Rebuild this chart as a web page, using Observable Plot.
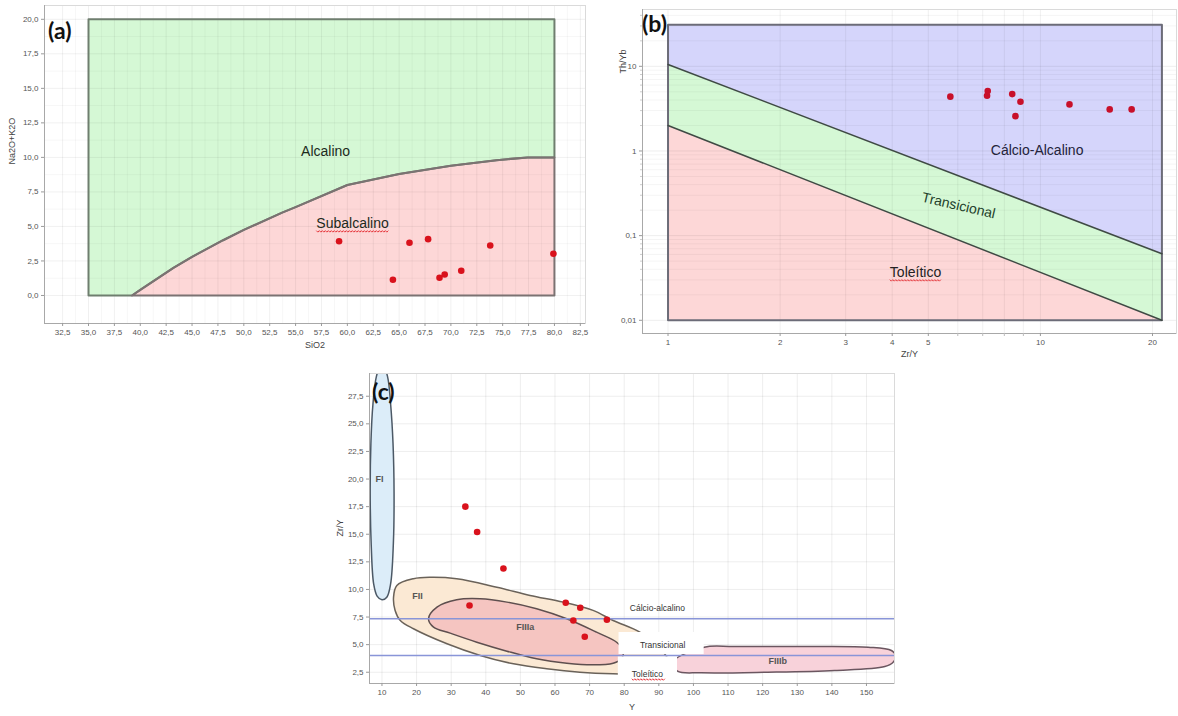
<!DOCTYPE html>
<html>
<head>
<meta charset="utf-8">
<script src="https://cdn.jsdelivr.net/npm/d3@7"></script>
<script src="https://cdn.jsdelivr.net/npm/@observablehq/plot@0.6"></script>
<style>
  html, body { margin: 0; padding: 0; background: #fff; }
  body { position: relative; width: 1178px; height: 716px; overflow: hidden; font-family: "Liberation Sans", Arial, sans-serif; }
  .panel { position: absolute; }
  .tag { position: absolute; font-family: Lato, "Open Sans", sans-serif; font-weight: 700; font-size: 23px; line-height: 1; color: #111; }
</style>
</head>
<body>
<div id="pa" class="panel" style="left:0px;top:0px"></div>
<div id="pb" class="panel" style="left:600px;top:0px"></div>
<div id="pc" class="panel" style="left:330px;top:362px"></div>
<div class="tag" style="left:48px;top:19px">(a)</div>
<div class="tag" style="left:642px;top:12px">(b)</div>
<div class="tag" style="left:372px;top:380px">(c)</div>
<script>
// ---------- (a) SiO2 x Na2O+K2O ----------
const tasSiO2 = [59.2, 64.4, 66.0, 67.8, 68.9, 69.4, 71.0, 73.8, 79.9];
const tasAlkalis = [3.93, 1.14, 3.82, 4.08, 1.28, 1.52, 1.79, 3.62, 3.02];
// alkaline / subalkaline divide
const alkBoundary = [[39.2, 0], [40, 0.4], [43.2, 2], [45, 2.8], [48, 4], [50, 4.75], [53.7, 6], [55, 6.4],
                     [60, 8], [65, 8.8], [70, 9.4], [74.4, 9.8], [77.4, 10], [80, 10]];
const tasSiO2Range = [35, 80];
const tasAlkTop = 20;
const tasTicksX = [32.5, 35, 37.5, 40, 42.5, 45, 47.5, 50, 52.5, 55, 57.5, 60, 62.5, 65, 67.5, 70, 72.5, 75, 77.5, 80, 82.5];
const tasTicksY = [0, 2.5, 5, 7.5, 10, 12.5, 15, 17.5, 20];
const tasLabels = [{text: "Alcalino", x: 57.9, y: 10.45}, {text: "Subalcalino", x: 60.5, y: 5.2}];

// ---------- (b) Zr/Y x Th/Yb ----------
const rbZrY = [5.73, 7.22, 7.19, 8.40, 8.84, 8.57, 11.97, 15.35, 17.58];
const rbThYb = [4.38, 5.10, 4.50, 4.70, 3.82, 2.58, 3.55, 3.10, 3.10];
const rbRangeX = [1, 21.2];
const rbRangeY = [0.01, 31];
const rbCalcAlkLine = [[1, 10.5], [21.2, 0.061]];
const rbTholLine = [[1, 2.0], [21.2, 0.01]];
const rbTicksX = [1, 2, 3, 4, 5, 10, 20];
const rbMinorX = [6, 7, 8, 9];
const rbTicksY = [0.01, 0.1, 1, 10];
const rbMinorY = [0.02, 0.03, 0.04, 0.05, 0.06, 0.07, 0.08, 0.09, 0.2, 0.3, 0.4, 0.5, 0.6, 0.7, 0.8, 0.9,
                  2, 3, 4, 5, 6, 7, 8, 9, 20, 30, 40];
const rbLabels = [
  {text: "Cálcio-Alcalino", x: 9.8, y: 1.0, style: "normal", rot: 0, color: "#23233a"},
  {text: "Transicional", x: 6.03, y: 0.226, style: "italic", rot: 13, color: "#22402a"},
  {text: "Toleítico", x: 4.62, y: 0.0365, style: "normal", rot: 0, color: "#222"}
];

// ---------- (c) Y x Zr/Y ----------
const ffY = [34.1, 37.5, 45.1, 35.3, 63.1, 67.3, 65.3, 75.0, 68.6];
const ffZrY = [17.5, 15.2, 11.9, 8.55, 8.79, 8.34, 7.19, 7.25, 5.71];
const fieldFI = [[10, 30.6], [11.6, 29.3], [12.5, 26.8], [13.2, 23.2], [13.5, 18.7], [13.3, 14.2], [12.5, 10.5],
                 [11.4, 9.3], [10, 9.06], [8.6, 9.4], [7.6, 10.5], [6.9, 14], [6.6, 18.7], [6.8, 23.2], [7.4, 26.8], [8.4, 29.3]];
const fieldFII = [[14.3, 10.36], [19.1, 10.97], [23.9, 11.1], [31.6, 10.97], [43.2, 10.2], [52.8, 9.46], [62.4, 8.85],
                  [71.0, 8.1], [76.8, 7.19], [84.5, 6.13], [89, 5.0], [91.6, 4.2], [93, 3.4], [92, 2.6], [88, 2.35],
                  [76.8, 2.36], [67.2, 2.5], [57.6, 2.81], [48.0, 3.26], [38.4, 4.02], [28.8, 5.08], [19.1, 6.44],
                  [15.3, 7.19], [13.8, 8.1], [13.35, 9.3]];
const fieldFIIIa = [[23.45, 7.34], [25.9, 8.4], [31.6, 9.07], [38.4, 9.16], [46.1, 8.85], [54.7, 8.25], [63.4, 7.34],
                    [72.0, 6.13], [77.8, 5.22], [79.7, 4.47], [79.2, 3.72], [76.8, 3.32], [71.0, 3.17], [63.4, 3.32],
                    [54.7, 3.72], [46.1, 4.41], [37.4, 5.22], [29.7, 6.04], [24.9, 6.58]];
const fieldFIIIb = [[94, 3.41], [103.1, 4.77], [111.8, 4.83], [131.1, 4.83], [150.5, 4.77], [157.2, 4.47], [158.4, 4.02],
                    [157.7, 3.41], [155.3, 3.02], [140.8, 2.66], [121.5, 2.5], [102.2, 2.45], [95.4, 2.6]];
const ffThresholds = [7.34, 4.02];
const ffTicksX = [10, 20, 30, 40, 50, 60, 70, 80, 90, 100, 110, 120, 130, 140, 150];
const ffTicksY = [2.5, 5, 7.5, 10, 12.5, 15, 17.5, 20, 22.5, 25, 27.5];
const ffFieldLabels = [{text: "FI", x: 9.3, y: 20}, {text: "FII", x: 20.3, y: 9.4},
                       {text: "FIIIa", x: 51.4, y: 6.6}, {text: "FIIIb", x: 124.4, y: 3.5}];
const ffSeriesLabels = [{text: "Cálcio-alcalino", x: 89.6, y: 8.34}, {text: "Transicional", x: 91.1, y: 4.92},
                        {text: "Toleítico", x: 86.7, y: 2.29}];
const ffLabelBoxes = [{x1: 78.5, x2: 103.1, y1: 4.1, y2: 6.1}, {x1: 78.3, x2: 95.4, y1: 1.5, y2: 3.9}];

// ---------- helpers ----------
const comma = digits => v => d3.format(`.${digits}f`)(v).replace(".", ",");
const px = d => d[0], py = d => d[1];
const mids = arr => d3.pairs(arr, (a, b) => (a + b) / 2);
const baseStyle = {fontFamily: "'Liberation Sans', Arial, sans-serif", fontSize: "8px", color: "#555", background: "transparent", overflow: "visible"};
const axisColors = {stroke: "#9a9a9a", fill: "#555"};

// red wavy spell-check underline under the given words (needs the svg in the DOM)
function spellMark(svg, words) {
  d3.select(svg).selectAll("text").filter(function () { return words.includes(this.textContent); })
    .each(function () {
      const b = this.getBBox();
      const y0 = b.y + b.height - 0.5;
      let d = `M${b.x},${y0}`;
      for (let x = b.x; x < b.x + b.width - 1; x += 3) d += " l1.5,1.5 l1.5,-1.5";
      d3.select(this.parentNode).append("path")
        .attr("d", d)
        .attr("transform", this.getAttribute("transform"))
        .attr("fill", "none")
        .attr("stroke", "#e3262b")
        .attr("stroke-width", 0.9);
    });
}

// ---------- (a) ----------
const domA = {x: [30.75, 83.0], y: [-2.03, 21.0]};
const subField = [...alkBoundary, [tasSiO2Range[1], 0]];
const alkField = [[tasSiO2Range[0], 0], [tasSiO2Range[0], tasAlkTop], [tasSiO2Range[1], tasAlkTop], ...alkBoundary.slice().reverse()];
const tasPoints = tasSiO2.map((s, i) => ({x: s, y: tasAlkalis[i]}));

const plotA = Plot.plot({
  width: 600, height: 362,
  marginLeft: 44, marginRight: 15, marginTop: 5, marginBottom: 39,
  style: baseStyle,
  x: {domain: domA.x}, y: {domain: domA.y},
  marks: [
    Plot.line(alkField, {x: px, y: py, curve: "linear-closed", fill: "#d5f8d5", stroke: "none"}),
    Plot.line(subField, {x: px, y: py, curve: "linear-closed", fill: "#fdd7d7", stroke: "none"}),
    Plot.gridX(mids(tasTicksX), {stroke: "#000", strokeOpacity: 0.035}),
    Plot.gridY(mids(tasTicksY), {stroke: "#000", strokeOpacity: 0.035}),
    Plot.gridX(tasTicksX, {stroke: "#000", strokeOpacity: 0.06}),
    Plot.gridY(tasTicksY, {stroke: "#000", strokeOpacity: 0.06}),
    Plot.line(alkField, {x: px, y: py, curve: "linear-closed", stroke: "#6f7e6f", strokeWidth: 2}),
    Plot.line(subField, {x: px, y: py, curve: "linear-closed", stroke: "#7b7272", strokeWidth: 2}),
    Plot.frame({stroke: "#dadada"}),
    Plot.ruleX([domA.x[0]], {stroke: "#a8a8a8"}),
    Plot.ruleY([domA.y[0]], {stroke: "#a8a8a8"}),
    Plot.axisX(tasTicksX, {tickSize: 3, tickPadding: 3, tickFormat: comma(1), label: null, ...axisColors}),
    Plot.axisY(tasTicksY, {tickSize: 3, tickPadding: 3, tickFormat: comma(1), label: null, ...axisColors}),
    Plot.dot(tasPoints, {x: "x", y: "y", r: 3.3, fill: "#d9121c", stroke: "none"}),
    Plot.text(tasLabels, {x: "x", y: "y", text: "text", fontSize: 14, fill: "#1c2a1c"}),
    Plot.text(["SiO2"], {frameAnchor: "bottom", dy: 24, fontSize: 9, fill: "#444"}),
    Plot.text(["Na2O+K2O"], {frameAnchor: "left", dx: -32, rotate: -90, fontSize: 9, fill: "#444"})
  ]
});
document.getElementById("pa").append(plotA);
spellMark(plotA, ["Subalcalino"]);

// ---------- (b) ----------
const domB = {x: [0.854, 23.2], y: [0.00698, 46.9]};
const [bx0, bx1] = rbRangeX, [by0, by1] = rbRangeY;
const calcAlkField = [[bx0, by1], [bx1, by1], rbCalcAlkLine[1], rbCalcAlkLine[0]];
const transField = [rbCalcAlkLine[0], rbCalcAlkLine[1], [bx1, by0], rbTholLine[0]];
const tholField = [rbTholLine[0], rbTholLine[1], [bx0, by0]];
const rbPoints = rbZrY.map((z, i) => ({x: z, y: rbThYb[i]}));

const plotB = Plot.plot({
  width: 578, height: 362,
  marginLeft: 42, marginRight: 2, marginTop: 9, marginBottom: 29,
  style: baseStyle,
  x: {type: "log", domain: domB.x}, y: {type: "log", domain: domB.y},
  marks: [
    Plot.line(calcAlkField, {x: px, y: py, curve: "linear-closed", fill: "#d5d5fb", stroke: "none"}),
    Plot.line(transField, {x: px, y: py, curve: "linear-closed", fill: "#d5f8d5", stroke: "none"}),
    Plot.line(tholField, {x: px, y: py, curve: "linear-closed", fill: "#fdd7d7", stroke: "none"}),
    Plot.gridX([...rbTicksX, ...rbMinorX], {stroke: "#000", strokeOpacity: 0.06}),
    Plot.gridY(rbMinorY, {stroke: "#000", strokeOpacity: 0.045}),
    Plot.gridY(rbTicksY, {stroke: "#000", strokeOpacity: 0.07}),
    Plot.line([[bx0, by0], [bx0, by1], [bx1, by1], [bx1, by0]], {x: px, y: py, curve: "linear-closed", stroke: "#6c6c78", strokeWidth: 2}),
    Plot.line(rbCalcAlkLine, {x: px, y: py, stroke: "#3f4a44", strokeWidth: 1.5}),
    Plot.line(rbTholLine, {x: px, y: py, stroke: "#3f4a44", strokeWidth: 1.5}),
    Plot.frame({stroke: "#dadada"}),
    Plot.ruleX([domB.x[0]], {stroke: "#a8a8a8"}),
    Plot.ruleY([domB.y[0]], {stroke: "#a8a8a8"}),
    Plot.axisX(rbTicksX, {tickSize: 3, tickPadding: 3, tickFormat: d => String(d), label: null, ...axisColors}),
    Plot.axisX(rbMinorX, {tickSize: 3, text: null, label: null, stroke: "#bbb"}),
    Plot.axisY(rbTicksY, {tickSize: 3, tickPadding: 3, tickFormat: d => String(d).replace(".", ","), label: null, ...axisColors}),
    Plot.axisY(rbMinorY, {tickSize: 2, text: null, label: null, stroke: "#ccc"}),
    Plot.dot(rbPoints, {x: "x", y: "y", r: 3.3, fill: "#c8102a", stroke: "none"}),
    Plot.text(rbLabels, {x: "x", y: "y", text: "text", fontSize: 14, fontStyle: d => d.style, rotate: d => d.rot, fill: d => d.color}),
    Plot.text(["Zr/Y"], {frameAnchor: "bottom", dy: 23, fontSize: 9, fill: "#444"}),
    Plot.text(["Th/Yb"], {frameAnchor: "top-left", dx: -23, dy: 64, rotate: -90, fontSize: 9, fill: "#444"})
  ]
});
document.getElementById("pb").append(plotB);
spellMark(plotB, ["Toleítico"]);

// ---------- (c) ----------
const domC = {x: [6.4, 158.1], y: [1.48, 29.56]};
const ffPoints = ffY.map((v, i) => ({x: v, y: ffZrY[i]}));

const plotC = Plot.plot({
  width: 578, height: 354,
  marginLeft: 39, marginRight: 14, marginTop: 11, marginBottom: 33,
  style: baseStyle,
  x: {domain: domC.x}, y: {domain: domC.y},
  marks: [
    Plot.gridX(ffTicksX, {stroke: "#000", strokeOpacity: 0.07}),
    Plot.gridY(ffTicksY, {stroke: "#000", strokeOpacity: 0.07}),
    Plot.line(fieldFI, {x: px, y: py, curve: "catmull-rom-closed", fill: "#dcedf9", stroke: "#4c5966", strokeWidth: 1.5, clip: true}),
    Plot.line(fieldFII, {x: px, y: py, curve: "catmull-rom-closed", fill: "#fbe9d4", stroke: "#6a6259", strokeWidth: 1.5}),
    Plot.line(fieldFIIIa, {x: px, y: py, curve: "catmull-rom-closed", fill: "#f5c5c1", stroke: "#5e4f4f", strokeWidth: 1.5}),
    Plot.line(fieldFIIIb, {x: px, y: py, curve: "catmull-rom-closed", fill: "#f8d2da", stroke: "#6b5660", strokeWidth: 1.5, clip: true}),
    Plot.rect(ffLabelBoxes, {x1: "x1", x2: "x2", y1: "y1", y2: "y2", fill: "white"}),
    Plot.ruleY(ffThresholds, {stroke: "#8995d8", strokeWidth: 1.6}),
    Plot.frame({stroke: "#dadada"}),
    Plot.ruleX([domC.x[0]], {stroke: "#a8a8a8"}),
    Plot.ruleY([domC.y[0]], {stroke: "#a8a8a8"}),
    Plot.axisX(ffTicksX, {tickSize: 3, tickPadding: 3, label: null, ...axisColors}),
    Plot.axisY(ffTicksY, {tickSize: 3, tickPadding: 3, tickFormat: comma(1), label: null, ...axisColors}),
    Plot.dot(ffPoints, {x: "x", y: "y", r: 3.3, fill: "#d9121c", stroke: "none"}),
    Plot.text(ffFieldLabels, {x: "x", y: "y", text: "text", fontSize: 9, fontWeight: "bold", fill: "#555"}),
    Plot.text(ffSeriesLabels, {x: "x", y: "y", text: "text", fontSize: 8.5, fill: "#333"}),
    Plot.text(["Y"], {frameAnchor: "bottom", dy: 26, fontSize: 9, fill: "#444"}),
    Plot.text(["Zr/Y"], {frameAnchor: "left", dx: -29, dy: 8, rotate: -90, fontSize: 9, fill: "#444"})
  ]
});
document.getElementById("pc").append(plotC);
spellMark(plotC, ["Toleítico"]);
</script>
</body>
</html>
